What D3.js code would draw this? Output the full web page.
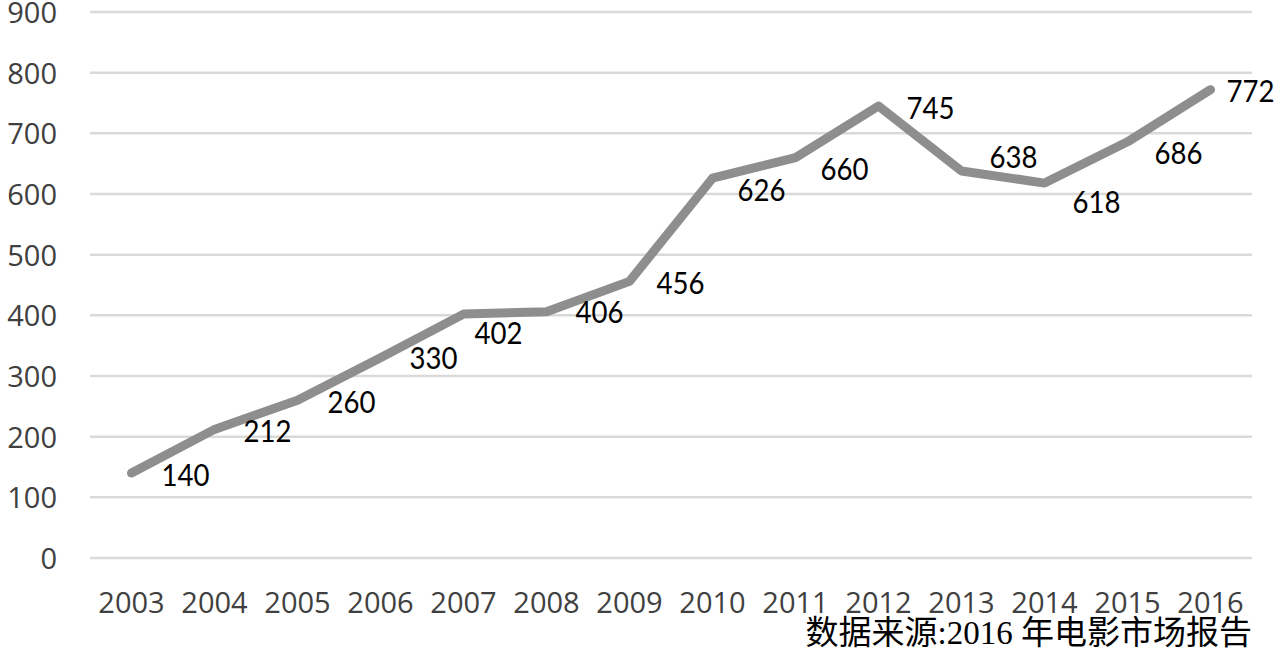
<!DOCTYPE html>
<html><head><meta charset="utf-8">
<script src="https://cdn.jsdelivr.net/npm/d3@7"></script>
<style>body{margin:0;background:#fff;}svg{display:block;}</style>
</head><body>
<svg id="chart" width="1280" height="652"></svg>
<script>
const years = ["2003","2004","2005","2006","2007","2008","2009","2010","2011","2012","2013","2014","2015","2016"];
const values = [140,212,260,330,402,406,456,626,660,745,638,618,686,772];
const yTicks = [0,100,200,300,400,500,600,700,800,900];
const sourceNote = "数据来源:2016 年电影市场报告";
// label nudges (layout)
const labelDx = [54,53,54,53,35,53,51,49,49,52,52,52,51,40];
const labelDy = [2,2,2,0,19,1,2,12,12,2,-14,19,11,2];

const svg = d3.select("#chart");
const mLeft = 90, mRight = 1252, mTop = 12, mBottom = 558;
const x = d3.scaleBand().domain(years).range([mLeft, mRight]);
const y = d3.scaleLinear().domain([0, 900]).range([mBottom, mTop]);

// gridlines
svg.append("g").selectAll("line").data(yTicks).join("line")
  .attr("x1", mLeft).attr("x2", mRight)
  .attr("y1", d => y(d)).attr("y2", d => y(d))
  .attr("stroke", "#d9d9d9").attr("stroke-width", 2.5);

// y axis
const ya = svg.append("g").attr("transform", `translate(${mLeft},0)`)
  .call(d3.axisLeft(y).tickValues(yTicks).tickSize(0).tickPadding(33));
ya.select(".domain").remove();
ya.selectAll("text").attr("font-family", "'Open Sans', sans-serif").attr("font-size", 29).attr("fill", "#404040")
  .attr("dy", "0.36em");

// x axis
const xa = svg.append("g").attr("transform", `translate(0,${mBottom})`)
  .call(d3.axisBottom(x).tickSize(0).tickPadding(34));
xa.select(".domain").remove();
xa.selectAll("text").attr("font-family", "'Open Sans', sans-serif").attr("font-size", 29).attr("fill", "#404040");

// line
const line = d3.line().x((d, i) => x(years[i]) + x.bandwidth() / 2).y(d => y(d));
svg.append("path").datum(values).attr("d", line)
  .attr("fill", "none").attr("stroke", "#8e8e8e").attr("stroke-width", 9)
  .attr("stroke-linejoin", "round").attr("stroke-linecap", "round");

// labels
svg.append("g").selectAll("text").data(values).join("text")
  .attr("x", (d, i) => x(years[i]) + x.bandwidth() / 2 + labelDx[i])
  .attr("y", (d, i) => y(d) + labelDy[i])
  .attr("dy", "0.36em").attr("text-anchor", "middle")
  .attr("font-family", "Lato, 'Open Sans', sans-serif").attr("font-size", 30).attr("fill", "#000")
  .attr("textLength", 48).attr("lengthAdjust", "spacingAndGlyphs")
  .text(d => d);

// source
svg.append("text").attr("x", mRight).attr("y", 644).attr("text-anchor", "end")
  .attr("font-family", "'Liberation Serif', 'Noto Sans CJK SC', serif").attr("font-size", 33).attr("fill", "#000")
  .text(sourceNote);
</script>
</body></html>
